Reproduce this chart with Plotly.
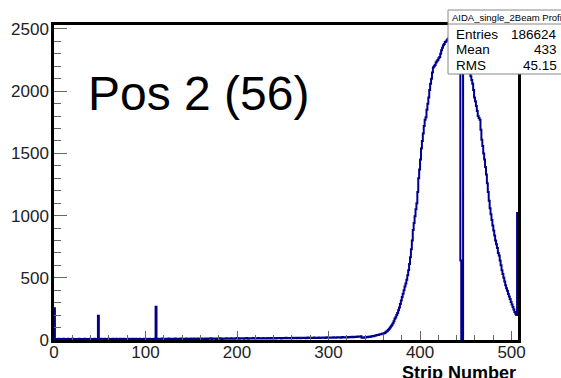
import plotly.graph_objects as go

# Strip profile: counts per strip (bin width 1), strips 0..506
counts_000_127 = [
    255, 8, 6, 9, 7, 10, 6, 8, 9, 7, 11, 6, 8, 7, 9, 10,
    7, 9, 6, 8, 10, 7, 9, 8, 6, 9, 7, 11, 8, 6, 9, 7,
    8, 10, 7, 9, 6, 8, 9, 11, 7, 8, 6, 9, 10, 7, 8, 9,
    195, 8, 7, 10, 9, 6, 8, 11, 7, 9, 8, 10, 6, 9, 7, 8,
    10, 7, 9, 8, 11, 6, 9, 7, 10, 8, 9, 7, 11, 8, 6, 9,
    8, 10, 7, 9, 6, 11, 8, 9, 7, 10, 8, 6, 9, 11, 7, 8,
    9, 7, 10, 8, 11, 9, 7, 8, 10, 6, 9, 8, 7, 10, 9, 268,
    8, 11, 9, 7, 10, 8, 12, 9, 7, 10, 11, 8, 9, 12, 7, 10,
]
counts_128_255 = [
    9, 11, 8, 10, 12, 7, 9, 11, 10, 8, 12, 9, 11, 7, 10, 9,
    12, 8, 10, 11, 9, 13, 8, 10, 9, 12, 11, 8, 10, 13, 9, 11,
    10, 12, 9, 11, 8, 13, 10, 9, 12, 11, 10, 14, 9, 11, 12, 10,
    13, 9, 11, 12, 10, 14, 11, 9, 12, 13, 10, 11, 14, 12, 10, 13,
    11, 15, 12, 10, 13, 11, 14, 12, 16, 13, 11, 14, 12, 15, 13, 11,
    14, 12, 16, 13, 11, 15, 14, 12, 13, 16, 14, 12, 15, 13, 14, 16,
    12, 15, 13, 14, 17, 12, 15, 14, 13, 16, 15, 12, 14, 17, 13, 15,
    14, 16, 13, 15, 17, 14, 16, 15, 13, 17, 15, 14, 16, 18, 14, 16,
]
counts_256_383 = [
    15, 17, 14, 16, 18, 15, 17, 16, 19, 15, 17, 18, 16, 14, 18, 17,
    16, 19, 17, 15, 18, 20, 16, 18, 17, 19, 16, 18, 20, 17, 19, 18,
    17, 20, 18, 16, 19, 21, 18, 20, 17, 19, 22, 18, 20, 19, 21, 18,
    20, 22, 19, 21, 18, 22, 20, 23, 21, 19, 22, 24, 21, 20, 23, 22,
    24, 21, 23, 25, 22, 26, 24, 23, 27, 25, 24, 28, 26, 29, 27, 30,
    18, 20, 19, 22, 21, 24, 23, 26, 25, 28, 27, 30, 32, 31, 34, 36,
    38, 41, 40, 44, 47, 46, 50, 53, 52, 56, 62, 68, 75, 82, 90, 100,
    110, 122, 135, 150, 170, 182, 200, 218, 240, 262, 290, 318, 345, 372, 400, 430,
]
counts_384_506 = [
    455, 485, 520, 560, 610, 665, 730, 800, 885, 940, 995, 1050, 1100, 1190, 1300, 1370,
    1450, 1540, 1600, 1660, 1720, 1770, 1790, 1850, 1900, 1950, 2010, 2060, 2100, 2150, 2190, 2200,
    2210, 2230, 2240, 2250, 2265, 2275, 2300, 2330, 2350, 2370, 2380, 2395, 2400, 2410, 2420, 2425,
    2440, 2430, 2450, 2445, 2460, 2440, 2455, 2430, 2420, 2410, 2400, 2380, 640, 0, 0, 2300,
    2280, 2260, 2240, 2220, 2200, 2180, 2150, 2120, 2090, 2060, 2010, 1950, 1920, 1880, 1840, 1800,
    1785, 1770, 1690, 1610, 1560, 1500, 1450, 1390, 1330, 1260, 1190, 1120, 1060, 1010, 965, 920,
    880, 840, 800, 770, 740, 700, 680, 640, 600, 560, 530, 500, 470, 440, 415, 395,
    370, 350, 330, 305, 285, 265, 245, 225, 210, 200, 1020,
]
counts = counts_000_127 + counts_128_255 + counts_256_383 + counts_384_506

x_ticks = [0, 100, 200, 300, 400, 500]
y_ticks = [0, 500, 1000, 1500, 2000, 2500]

stats_title = "AIDA_single_2Beam Profile"
stats_rows = [("Entries", "186624"), ("Mean", "433"), ("RMS", "45.15")]
label_text = "Pos 2 (56)"
x_title = "Strip Number"

# step outline: left bin edges, closed at the right edge
edges = list(range(len(counts) + 1))
xs = [0] + edges
ys = [0] + counts + [counts[-1]]

W, H = 561, 378
ML, MR, MT, MB = 54, 43, 25, 38
PW, PH = W - ML - MR, H - MT - MB


def fx(p):
    return (p - ML) / PW


def fy(p):
    return (H - MB - p) / PH


fig = go.Figure()
fig.add_trace(go.Scatter(
    x=xs, y=ys, mode="lines", line_shape="hv",
    line=dict(color="#00008f", width=2), hoverinfo="skip", showlegend=False,
))

font = "Liberation Sans, Arial, sans-serif"
axis_common = dict(
    showline=True, mirror=True, linecolor="black", linewidth=2.5,
    ticks="inside", tickcolor="#666", tickwidth=1,
    showgrid=False, zeroline=False,
    tickfont=dict(family=font, size=17, color="#222"),
)
fig.update_xaxes(
    range=[0, 507], tickvals=x_ticks, ticklen=9, ticklabelstandoff=-5,
    minor=dict(ticks="inside", dtick=20, ticklen=5, tickcolor="#666", showgrid=False),
    **axis_common,
)
fig.update_yaxes(
    range=[0, 2532], tickvals=y_ticks, ticklen=13, ticklabelstandoff=-1,
    minor=dict(ticks="inside", dtick=100, ticklen=7, tickcolor="#666", showgrid=False),
    **axis_common,
)

shapes = [
    dict(type="rect", xref="paper", yref="paper",
         x0=fx(448), x1=fx(580), y0=fy(74), y1=fy(10),
         line=dict(color="#888", width=1), fillcolor="white", layer="above"),
    dict(type="line", xref="paper", yref="paper",
         x0=fx(448), x1=fx(580), y0=fy(24), y1=fy(24),
         line=dict(color="#888", width=1), layer="above"),
]

annotations = [
    dict(text=label_text, xref="paper", yref="paper", x=fx(86), y=fy(93),
         xanchor="left", yanchor="middle", showarrow=False,
         font=dict(family=font, size=48, color="black")),
    dict(text=f"<b>{x_title}</b>", xref="paper", yref="paper", x=fx(518), y=fy(361),
         xanchor="right", yanchor="top", showarrow=False,
         font=dict(family=font, size=18, color="black")),
    dict(text=stats_title, xref="paper", yref="paper", x=fx(450), y=fy(17.5),
         xanchor="left", yanchor="middle", showarrow=False,
         font=dict(family=font, size=9.5, color="black")),
]
for i, (name, val) in enumerate(stats_rows):
    yc = fy(34 + 15.5 * i)
    annotations.append(dict(text=name, xref="paper", yref="paper", x=fx(454), y=yc,
                            xanchor="left", yanchor="middle", showarrow=False,
                            font=dict(family=font, size=13.5, color="black")))
    annotations.append(dict(text=val, xref="paper", yref="paper", x=fx(559), y=yc,
                            xanchor="right", yanchor="middle", showarrow=False,
                            font=dict(family=font, size=13.5, color="black")))

fig.update_layout(
    width=W, height=H,
    margin=dict(l=ML, r=MR, t=MT, b=MB),
    paper_bgcolor="white", plot_bgcolor="white",
    shapes=shapes, annotations=annotations,
)

fig.write_html("out.html")
